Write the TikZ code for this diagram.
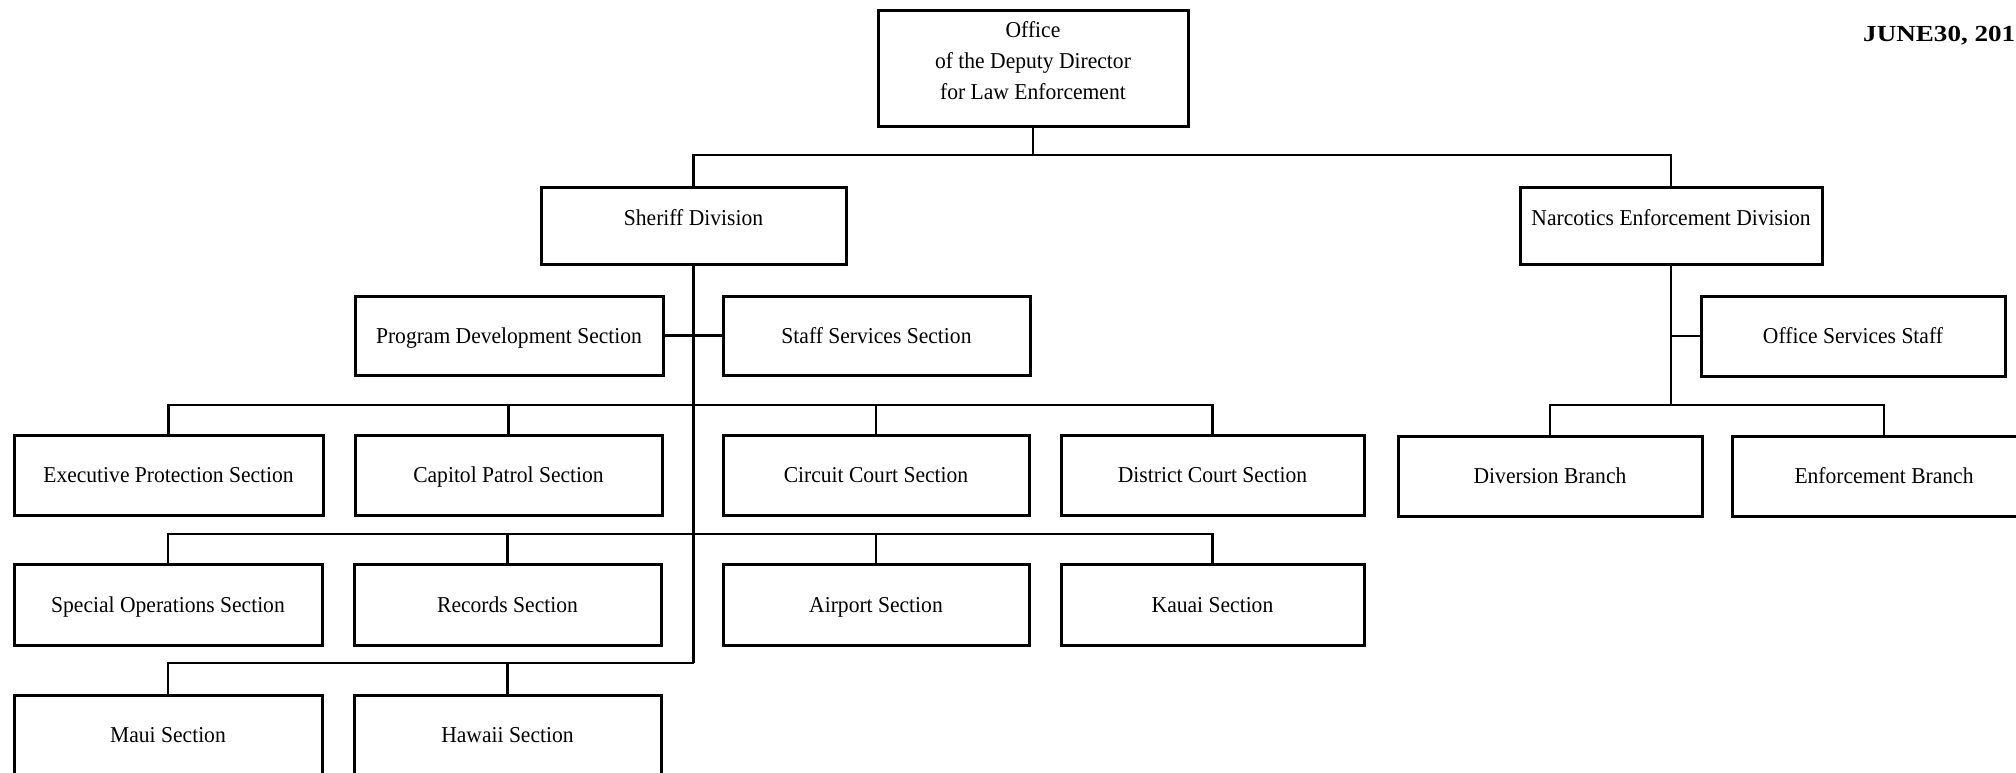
\documentclass[tikz,border=0pt]{standalone}
\usepackage{fontspec}
\setmainfont{Liberation Serif}[FakeStretch=0.95]
\begin{document}
\begin{tikzpicture}[x=1pt,y=-1pt,
  box/.style={draw, line width=3pt, rectangle, inner sep=0pt,
    text height=15.5pt, text depth=0pt,
    font=\fontsize{22.7}{30.6}\selectfont},
  hi/.style={text height=0pt, text depth=0pt},
  wA/.style={minimum width=308pt, minimum height=80pt},
  conn/.style={line width=2.8pt}]
\useasboundingbox (0,0) rectangle (2016,772);
\clip (0,0) rectangle (2016,772);

% top
\node[box, minimum width=310pt, minimum height=116pt] (top) at (1033,68) {};
\node[inner sep=0pt, align=center, font=\fontsize{22.7}{30.6}\selectfont] (toptext) at (1033,60.6)
  {Office\\of the Deputy Director\\for Law Enforcement};
\node[anchor=base west, inner sep=0pt, font=\bfseries\fontsize{23}{28}\selectfont] (date) at (1863,41.7)
  {\scalebox{1.24}[1]{JUNE30, 201}};

% divisions
\node[box, hi, minimum width=305pt, minimum height=77pt] (sheriff) at (693.5,225.5) {Sheriff Division};
\node[box, hi, minimum width=302pt, minimum height=77pt] (narc) at (1671,225.5) {Narcotics Enforcement Division};

% staff level
\node[box, minimum width=308pt, minimum height=79pt] (prog) at (509,335.5) {Program Development Section};
\node[box, minimum width=307pt, minimum height=79pt] (staff) at (876.5,335.5) {Staff Services Section};
\node[box, minimum width=304pt, minimum height=80pt] (office) at (1853,336) {Office Services Staff};

% row 1
\node[box, wA, minimum width=309pt] (exec) at (168.5,475) {Executive Protection Section};
\node[box, wA, minimum width=307pt] (capitol) at (508.5,475) {Capitol Patrol Section};
\node[box, wA, minimum width=306pt] (circuit) at (876,475) {Circuit Court Section};
\node[box, wA, minimum width=303pt] (district) at (1212.5,475) {District Court Section};
\node[box, wA, minimum width=304pt] (diversion) at (1550,476) {Diversion Branch};
\node[box, wA, minimum width=304pt] (enforce) at (1884,476) {Enforcement Branch};

% row 2
\node[box, wA, minimum width=308pt, minimum height=81pt] (special) at (168,604.5) {Special Operations Section};
\node[box, wA, minimum width=307pt, minimum height=81pt] (records) at (507.5,604.5) {Records Section};
\node[box, wA, minimum width=306pt, minimum height=81pt] (airport) at (876,604.5) {Airport Section};
\node[box, wA, minimum width=303pt, minimum height=81pt] (kauai) at (1212.5,604.5) {Kauai Section};

% row 3
\node[box, wA, minimum width=308pt] (maui) at (168,735) {Maui Section};
\node[box, wA, minimum width=307pt] (hawaii) at (507.5,735) {Hawaii Section};

% connector coordinates
\coordinate (b0) at (1033,155);
\coordinate (r1) at (693.5,405);
\coordinate (r2) at (693.5,534);
\coordinate (r3) at (693.5,663);
\coordinate (n1) at (1671,405);

\draw[conn] (top.south) -- (b0);
\draw[conn] (sheriff.north) |- (b0) -| (narc.north);
\draw[conn] (sheriff.south) -- (r3);
\draw[conn] (prog.east) -- (staff.west);
\draw[conn] (exec.north) |- (r1) -| (district.north);
\draw[conn] (capitol.north) -- (capitol.north |- r1);
\draw[conn] (circuit.north) -- (circuit.north |- r1);
\draw[conn] (special.north) |- (r2) -| (kauai.north);
\draw[conn] (records.north) -- (records.north |- r2);
\draw[conn] (airport.north) -- (airport.north |- r2);
\draw[conn] (maui.north) |- (r3);
\draw[conn] (hawaii.north) -- (hawaii.north |- r3);
\draw[conn] (narc.south) -- (n1);
\draw[conn] (office.west) -- (office.west -| narc.south);
\draw[conn] (diversion.north) |- (n1) -| (enforce.north);
\end{tikzpicture}
\end{document}
